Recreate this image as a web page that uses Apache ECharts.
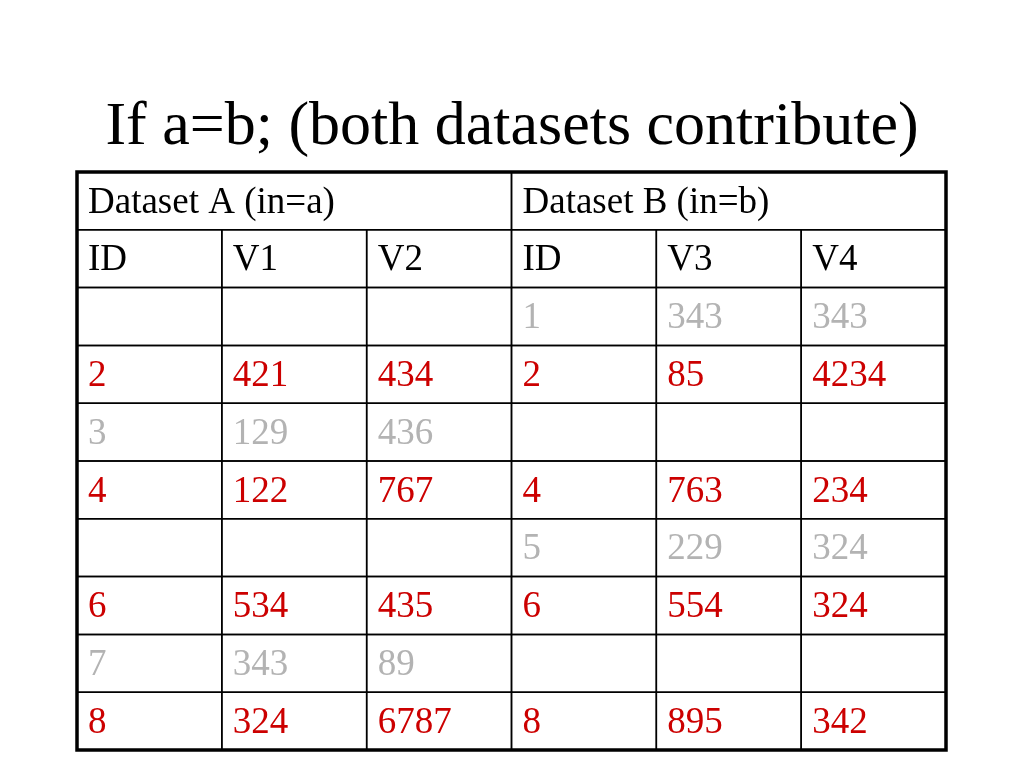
<!DOCTYPE html>
<html><head><meta charset="utf-8">
<script src="https://cdn.jsdelivr.net/npm/echarts@6/dist/echarts.min.js"></script>
<style>html,body{margin:0;padding:0;background:#fff}#c{width:1024px;height:768px}</style>
</head><body><div id="c"></div>
<script>
const title = "If a=b; (both datasets contribute)";
const groupHeaders = ["Dataset A (in=a)", "Dataset B (in=b)"];
const columnHeaders = ["ID", "V1", "V2", "ID", "V3", "V4"];
const idsA = ["", "2", "3", "4", "", "6", "7", "8"];
const v1 = ["", "421", "129", "122", "", "534", "343", "324"];
const v2 = ["", "434", "436", "767", "", "435", "89", "6787"];
const idsB = ["1", "2", "", "4", "5", "6", "", "8"];
const v3 = ["343", "85", "", "763", "229", "554", "", "895"];
const v4 = ["343", "4234", "", "234", "324", "324", "", "342"];
const RED = "#cc0000", GRAY = "#b3b3b3", BLACK = "#000";

const cells = [];
cells.push([0, 0, 3, groupHeaders[0], BLACK]);
cells.push([3, 0, 3, groupHeaders[1], BLACK]);
columnHeaders.forEach((h, i) => cells.push([i, 1, 1, h, BLACK]));
idsA.forEach((id, r) => {
  const both = idsA[r] !== "" && idsB[r] !== "";
  const col = both ? RED : GRAY;
  const row = r + 2;
  [idsA[r], v1[r], v2[r]].forEach((t, c) => cells.push([c, row, 1, t, col]));
  [idsB[r], v3[r], v4[r]].forEach((t, c) => cells.push([c + 3, row, 1, t, col]));
});

const chart = echarts.init(document.getElementById('c'));
chart.setOption({
  animation: false,
  title: { text: title, left: 'center', top: 92,
    textStyle: { fontFamily: 'Liberation Serif', fontSize: 62, fontWeight: 'normal', color: '#000' } },
  grid: { left: 77, right: 78, top: 172, bottom: 18 },
  xAxis: { type: 'value', min: 0, max: 6, show: false },
  yAxis: { type: 'value', min: 0, max: 10, inverse: true, show: false },
  series: [{
    type: 'custom',
    data: cells,
    renderItem: function (params, api) {
      const c = api.value(0), r = api.value(1), span = api.value(2);
      const p0 = api.coord([c, r]), p1 = api.coord([c + span, r + 1]);
      const item = cells[params.dataIndex];
      return {
        type: 'group',
        children: [
          { type: 'rect', shape: { x: p0[0], y: p0[1], width: p1[0] - p0[0], height: p1[1] - p0[1] },
            style: { fill: 'none', stroke: '#000', lineWidth: 1.5 } },
          { type: 'text', style: { text: item[3], x: p0[0] + 11, y: (p0[1] + p1[1]) / 2 + 2,
            textVerticalAlign: 'middle', fill: item[4], fontFamily: 'Liberation Serif', fontSize: 37 } }
        ]
      };
    }
  }, {
    type: 'custom',
    data: [[0, 0, 6, 10]],
    z: 3,
    renderItem: function (params, api) {
      const p0 = api.coord([api.value(0), api.value(1)]), p1 = api.coord([api.value(2), api.value(3)]);
      return { type: 'rect', shape: { x: p0[0], y: p0[1], width: p1[0] - p0[0], height: p1[1] - p0[1] },
        style: { fill: 'none', stroke: '#000', lineWidth: 3.5 } };
    }
  }]
});
</script></body></html>
